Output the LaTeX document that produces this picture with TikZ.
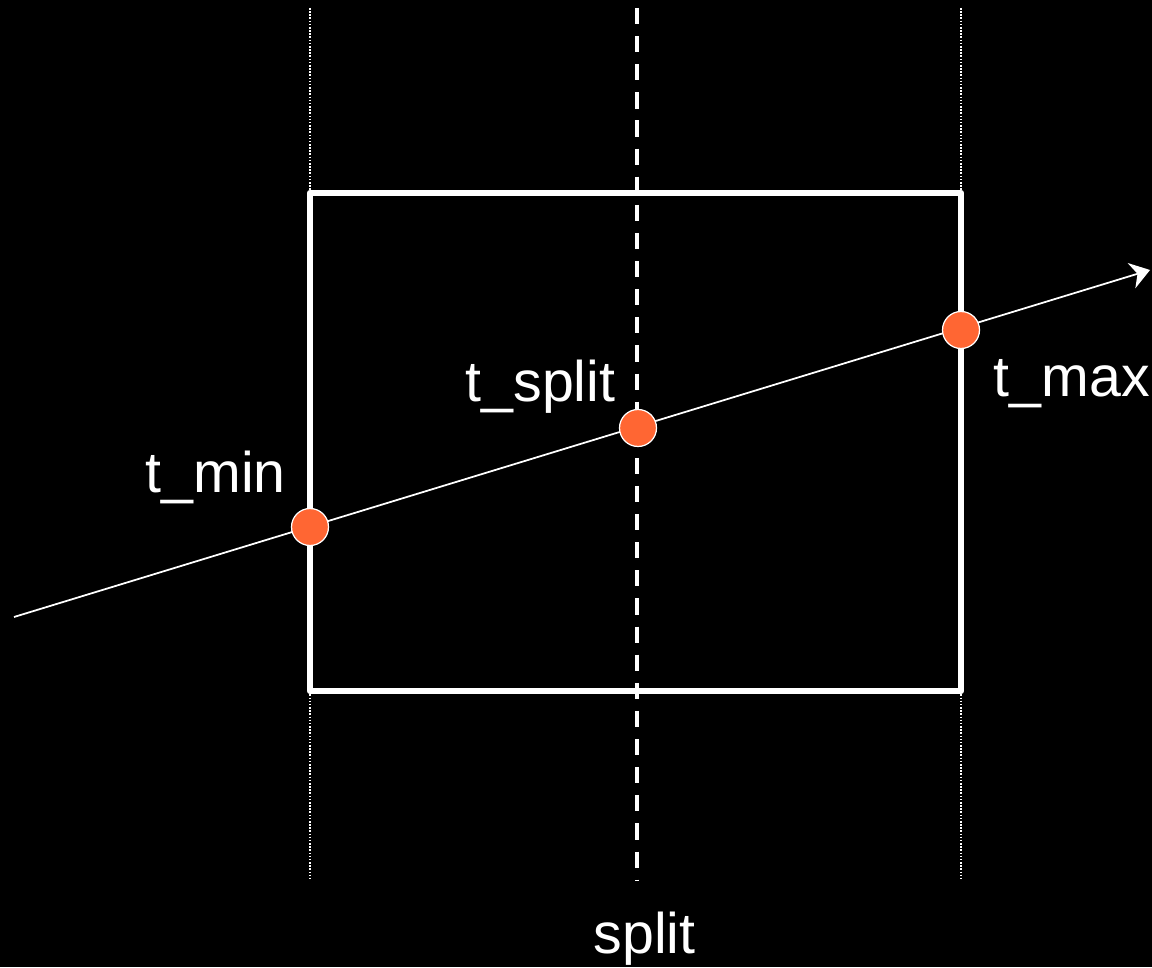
\documentclass[tikz,border=0pt]{standalone}
\usepackage{fontspec}
\usepackage{tikz}
\usetikzlibrary{arrows.meta,positioning}
\setsansfont{Liberation Sans}
\definecolor{hitorange}{RGB}{255, 102, 51}
\tikzset{
 cellbox/.style={
 draw=white,
 line width=1.8pt,
 line cap=round,
 line join=round
 },
 planeguide/.style={draw=white, line width=0.35pt, dash pattern=on 0.45pt off 0.45pt},
 splitplane/.style={draw=white, line width=1pt, dash pattern=on 4.6pt off 3.4pt},
 rayline/.style={-{Stealth[length=5.5pt, width=7.5pt]}, draw=white, line width=0.5pt},
 hitdot/.style={
 circle,
 draw=white,
 line width=0.35pt,
 fill=hitorange,
 minimum size=0.37cm,
 inner sep=0pt
 },
 tlabel/.style={
 text=white,
 inner sep=0pt,
 anchor=base west,
 font=\sffamily\fontsize{16.3}{19}\selectfont
 }
}

\begin{document}
\begin{tikzpicture}
	\fill[black] (0,0) rectangle (11.52,9.67);
	\useasboundingbox (0,0) rectangle (11.52,9.67);

	% planes through the cell
	\coordinate (lefttop) at (3.10,9.59);
	\coordinate (leftbot) at (3.10,0.87);
	\coordinate (righttop) at (9.61,9.59);
	\coordinate (rightbot) at (9.61,0.87);
	\coordinate (splittop) at (6.37,9.59);
	\coordinate (splitbot) at (6.37,0.87);
	\draw[planeguide] (lefttop) -- (leftbot);
	\draw[planeguide] (righttop) -- (rightbot);
	\draw[splitplane] (splittop) -- (splitbot);

	% the cell
	\draw[cellbox] (3.10,2.76) rectangle (9.61,7.74);

	% the ray
	\coordinate (raystart) at (0.14,3.50);
	\coordinate (rayend) at (11.50,6.97);
	\draw[rayline] (raystart) -- (rayend);

	\node[hitdot] (tmin) at (3.10,4.40) {};
	\node[hitdot] (tsplit) at (6.38,5.39) {};
	\node[hitdot] (tmax) at (9.61,6.37) {};

	\node[tlabel] (tminlabel) at (1.45,4.74) {t\_min};
	\node[tlabel] (tsplitlabel) at (4.65,5.65) {t\_split};
	\node[tlabel] (tmaxlabel) at (9.93,5.70) {t\_max};
	\node[tlabel] (splitlabel) at (5.93,0.14) {split};
\end{tikzpicture}
\end{document}
